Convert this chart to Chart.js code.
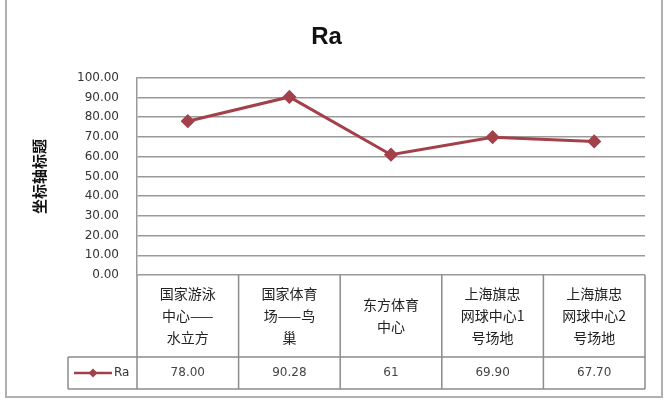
<!DOCTYPE html>
<html>
<head>
<meta charset="utf-8">
<script src="https://cdn.jsdelivr.net/npm/chart.js@4.4.1/dist/chart.umd.min.js"></script>
<style>
  html, body { margin: 0; padding: 0; background: #fff; }
  #wrap { width: 670px; height: 404px; position: relative; }
  #frame { position: absolute; left: 5px; top: -2px; width: 658px; height: 400px; border: 2px solid #b0b0b0; box-sizing: border-box; }
</style>
</head>
<body>
<div id="wrap">
  <div id="frame"></div>
  <canvas id="c" width="670" height="404"></canvas>
</div>
<script>
/* ===============================
   Data
================================ */
const categories = [
  ["国家游泳", "中心——", "水立方"],
  ["国家体育", "场——鸟", "巢"],
  ["东方体育", "中心"],
  ["上海旗忠", "网球中心1", "号场地"],
  ["上海旗忠", "网球中心2", "号场地"]
];
const raValues = [78.00, 90.28, 61, 69.9, 67.7];
const raLabels = ["78.00", "90.28", "61", "69.90", "67.70"];
const yTicks = [0, 10, 20, 30, 40, 50, 60, 70, 80, 90, 100];

const LINE = "#a3404a";
const BORDER = "#8c8c8c";
const CJK = "'Noto Sans CJK SC', 'DejaVu Sans', sans-serif";

/* ===============================
   Data table under the plot
================================ */
const tablePlugin = {
  id: "table",
  afterDraw(chart) {
    const ctx = chart.ctx;
    const x = chart.scales.x;
    const area = chart.chartArea;
    const step = x.getPixelForValue(1) - x.getPixelForValue(0);
    const catTop = area.bottom;
    const catBottom = 357;
    const rowBottom = 389;
    const legendLeft = 68;

    ctx.save();
    ctx.strokeStyle = BORDER;
    ctx.lineWidth = 1.5;

    // category box + data row outline
    ctx.beginPath();
    ctx.moveTo(area.left, catTop);
    ctx.lineTo(area.left, rowBottom);
    ctx.moveTo(area.right, catTop);
    ctx.lineTo(area.right, rowBottom);
    ctx.moveTo(legendLeft, catBottom);
    ctx.lineTo(area.right, catBottom);
    ctx.moveTo(legendLeft, rowBottom);
    ctx.lineTo(area.right, rowBottom);
    ctx.moveTo(legendLeft, catBottom);
    ctx.lineTo(legendLeft, rowBottom);
    categories.forEach((c, i) => {
      if (i === 0) return;
      const px = x.getPixelForValue(i) - step / 2;
      ctx.moveTo(px, catTop);
      ctx.lineTo(px, rowBottom);
    });
    ctx.stroke();

    // category labels
    ctx.fillStyle = "#222";
    ctx.textAlign = "center";
    ctx.textBaseline = "middle";
    ctx.font = "14px " + CJK;
    const lh = 22;
    categories.forEach((lines, i) => {
      const cx = x.getPixelForValue(i);
      const midY = (catTop + catBottom) / 2;
      const startY = midY - (lines.length - 1) * lh / 2;
      lines.forEach((t, j) => ctx.fillText(t, cx, startY + j * lh));
    });

    // values row
    ctx.font = "12px 'DejaVu Sans', sans-serif";
    ctx.fillStyle = "#444";
    const rowMid = (catBottom + rowBottom) / 2;
    raLabels.forEach((t, i) => ctx.fillText(t, x.getPixelForValue(i), rowMid));

    // legend key
    ctx.strokeStyle = LINE;
    ctx.lineWidth = 2.5;
    ctx.beginPath();
    ctx.moveTo(74, rowMid);
    ctx.lineTo(112, rowMid);
    ctx.stroke();
    ctx.fillStyle = LINE;
    ctx.beginPath();
    ctx.moveTo(93, rowMid - 4.5);
    ctx.lineTo(97.5, rowMid);
    ctx.lineTo(93, rowMid + 4.5);
    ctx.lineTo(88.5, rowMid);
    ctx.closePath();
    ctx.fill();
    ctx.fillStyle = "#333";
    ctx.textAlign = "left";
    ctx.font = "12px 'DejaVu Sans', sans-serif";
    ctx.fillText("Ra", 114, rowMid);
    ctx.restore();
  }
};

/* ===============================
   Chart
================================ */
new Chart(document.getElementById("c"), {
  type: "line",
  data: {
    labels: categories,
    datasets: [{
      label: "Ra",
      data: raValues,
      borderColor: LINE,
      backgroundColor: LINE,
      borderWidth: 3,
      pointStyle: "rectRot",
      pointRadius: 5,
      pointHoverRadius: 5,
      tension: 0
    }]
  },
  options: {
    responsive: false,
    animation: false,
    layout: { padding: { left: 8, right: 25, top: 0, bottom: 129 } },
    plugins: {
      legend: { display: false },
      tooltip: { enabled: false },
      title: {
        display: true,
        text: "Ra",
        color: "#111",
        font: { size: 24, weight: "bold", family: "'Liberation Sans', sans-serif" },
        padding: { top: 23, bottom: 26 }
      }
    },
    scales: {
      x: {
        offset: true,
        grid: { display: false, drawTicks: false },
        border: { display: false },
        ticks: { display: false }
      },
      y: {
        min: 0,
        max: 100,
        afterBuildTicks(scale) {
          scale.ticks = yTicks.map(v => ({ value: v }));
        },
        afterFit(scale) {
          scale.width = 129;
        },
        grid: { color: "#9a9a9a", lineWidth: 1.5, drawTicks: false },
        border: { display: true, color: "#9a9a9a", width: 1.5 },
        ticks: {
          padding: 18,
          color: "#333",
          font: { size: 12, family: "'DejaVu Sans', sans-serif" },
          callback: v => v.toFixed(2)
        },
        title: {
          display: true,
          text: "坐标轴标题",
          color: "#111",
          font: { size: 15, weight: "bold", family: CJK },
          padding: { top: 22, bottom: 0 }
        }
      }
    }
  },
  plugins: [tablePlugin]
});
</script>
</body>
</html>
